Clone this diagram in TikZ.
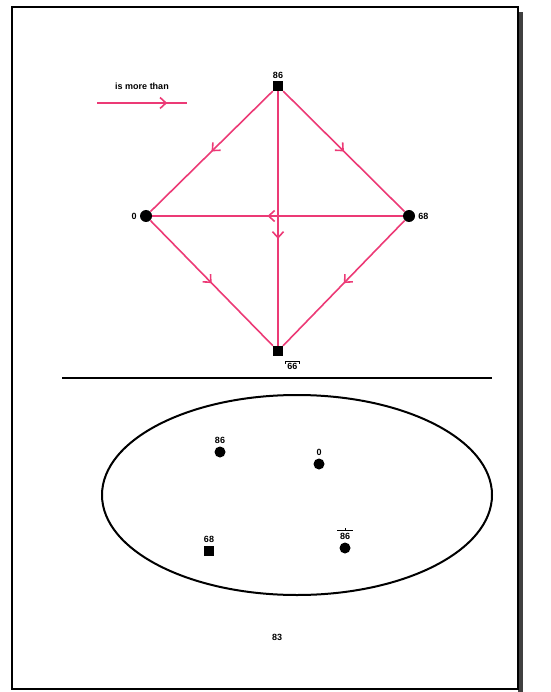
\documentclass[tikz,border=0pt]{standalone}
\usepackage{fontspec}
\setmainfont{Liberation Sans}
\usetikzlibrary{arrows.meta,decorations.markings,shapes.geometric}
\definecolor{rel}{RGB}{236,58,118}
\tikzset{
  x=1pt,y=-1pt,
  sq/.style={fill=black,minimum size=10pt,inner sep=0pt},
  dot/.style={circle,fill=black,minimum size=12pt,inner sep=0pt},
  lbl/.style={font=\fontsize{9}{10}\selectfont\bfseries,inner sep=1pt},
  accent/.style={line width=0.8pt},
  rel/.style={draw=rel,line width=1.6pt,postaction={decorate},
    decoration={markings,mark=at position #1 with {\arrow{Straight Barb[length=6pt,width=11pt,line width=1.6pt]}}}},
  rel/.default=0.5
}
\begin{document}
\begin{tikzpicture}
\useasboundingbox (0,0) rectangle (550,692);
% frame with shadow
\fill[black!75] (518,12) rectangle (523,692);
\draw[line width=1.5pt] (12,7) rectangle (518,689);
% legend
\node[lbl] (leg) at (142,86) {is more than};
\coordinate (la) at (97,103);
\coordinate (lb) at (187,103);
\draw[rel=0.78] (la) -- (lb);
% diamond
\node[sq] (t) at (278,86) {};
\node[dot] (l) at (146,216) {};
\node[dot] (r) at (409,216) {};
\node[sq] (b) at (278,351) {};
\node[lbl,anchor=south] (tl) at ([yshift=1pt]t.north) {86};
\node[lbl,anchor=east] (ll) at ([xshift=-2pt]l.west) {0};
\node[lbl,anchor=west] (rl) at ([xshift=2pt]r.east) {68};
\node[lbl,anchor=north west] (bl) at ([xshift=3pt,yshift=-6pt]b.south east) {66};
\draw[accent] ([xshift=-1pt,yshift=1pt]bl.north west) -- ++(0,2.5)
  ([xshift=-1pt,yshift=1pt]bl.north west) -- ([xshift=1pt,yshift=1pt]bl.north east) -- ++(0,2.5);
\draw[rel] (t) -- (l);
\draw[rel] (t) -- (r);
\draw[rel=0.58] (t) -- (b);
\draw[rel=0.54] (r) -- (l);
\draw[rel] (l) -- (b);
\draw[rel] (r) -- (b);
% separator
\coordinate (s1) at (62,378);
\coordinate (s2) at (492,378);
\draw[line width=1.3pt] (s1) -- (s2);
% ellipse
\node[draw,ellipse,line width=2pt,minimum width=390pt,minimum height=200pt] (e) at (297,495) {};
\node[dot,minimum size=11pt] (p1) at (220,452) {};
\node[dot,minimum size=11pt] (p2) at (319,464) {};
\node[sq] (p3) at (209,551) {};
\node[dot,minimum size=11pt] (p4) at (345,548) {};
\node[lbl,anchor=south] (p1l) at ([yshift=2pt]p1.north) {86};
\node[lbl,anchor=south] (p2l) at ([yshift=2pt]p2.north) {0};
\node[lbl,anchor=south] (p3l) at ([yshift=2pt]p3.north) {68};
\node[lbl,anchor=south] (p4l) at ([yshift=2pt]p4.north) {86};
\draw[accent] ([xshift=-1.5pt,yshift=1.5pt]p4l.north west) -- ([xshift=1.5pt,yshift=1.5pt]p4l.north east)
  ([yshift=1.5pt]p4l.north) -- ++(0,-2.5);
\node[lbl] (cap) at (277,637) {83};
\end{tikzpicture}
\end{document}
